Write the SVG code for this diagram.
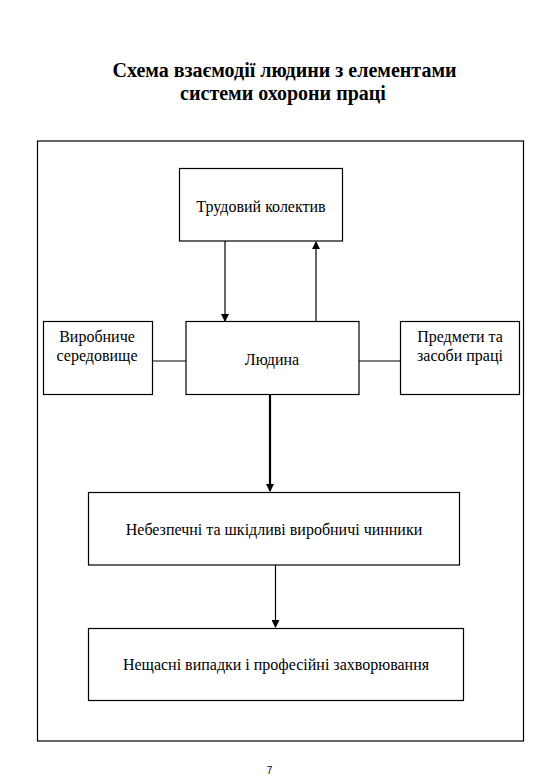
<svg xmlns="http://www.w3.org/2000/svg" width="540" height="780" viewBox="0 0 540 780">
<style>
.box{fill:#fff;stroke:#000;stroke-width:1.2}
.t{font-family:"Liberation Serif","Times New Roman",serif;font-size:16px;fill:#000;text-anchor:middle}
.title{font-family:"Liberation Serif","Times New Roman",serif;font-size:20px;font-weight:bold;fill:#000;text-anchor:middle}
.c{stroke:#000;stroke-width:1.2;fill:none}
</style>
<defs>
<marker id="ah" markerWidth="8" markerHeight="8" refX="7" refY="4" orient="auto" markerUnits="userSpaceOnUse">
<path d="M0,0 L8,4 L0,8 Z" fill="#000"/>
</marker>
</defs>
<rect width="540" height="780" fill="#fff"/>
<text class="title" x="284.5" y="77">Схема взаємодії людини з елементами</text>
<text class="title" x="283" y="100">системи охорони праці</text>
<rect id="frame" x="37.5" y="141" width="486" height="600" fill="none" stroke="#000" stroke-width="1.2"/>
<g id="connectors">
<line class="c" x1="225" y1="241" x2="225" y2="321" marker-end="url(#ah)"/>
<line class="c" x1="316" y1="321" x2="316" y2="242" marker-end="url(#ah)"/>
<line class="c" x1="152" y1="361" x2="186" y2="361"/>
<line class="c" x1="359" y1="361" x2="400" y2="361"/>
<line x1="270" y1="394" x2="270" y2="491" stroke="#000" stroke-width="2.2" marker-end="url(#ah)"/>
<line class="c" x1="275.5" y1="565" x2="275.5" y2="627" marker-end="url(#ah)"/>
</g>
<g id="node-trudovyi">
<rect class="box" x="179.5" y="168.5" width="163" height="72.5"/>
<text class="t" x="261" y="212">Трудовий колектив</text>
</g>
<g id="node-vyrobnyche">
<rect class="box" x="43.5" y="321.5" width="109" height="73"/>
<text class="t" x="97" y="342">Виробниче</text>
<text class="t" x="97" y="361">середовище</text>
</g>
<g id="node-liudyna">
<rect class="box" x="186" y="321.5" width="173" height="73"/>
<text class="t" x="272" y="365">Людина</text>
</g>
<g id="node-predmety">
<rect class="box" x="400.5" y="321.5" width="119" height="73"/>
<text class="t" x="460" y="342">Предмети та</text>
<text class="t" x="460" y="361">засоби праці</text>
</g>
<g id="node-nebezpechni">
<rect class="box" x="88.5" y="492.5" width="371" height="72.5"/>
<text class="t" x="274" y="535">Небезпечні та шкідливі виробничі чинники</text>
</g>
<g id="node-neshchasni">
<rect class="box" x="88.5" y="628.5" width="375" height="72"/>
<text class="t" x="276" y="670">Нещасні випадки і професійні захворювання</text>
</g>
<text x="269.5" y="774" font-family="'Liberation Sans',Arial,sans-serif" font-size="10" text-anchor="middle" fill="#000">7</text>
</svg>
